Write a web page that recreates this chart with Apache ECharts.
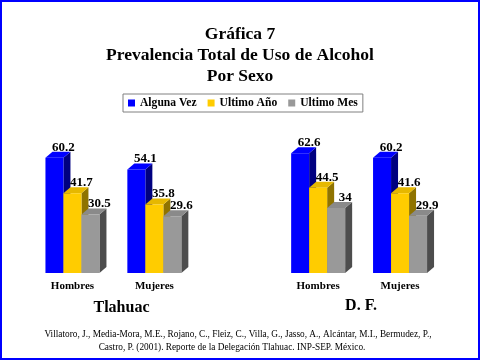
<!DOCTYPE html>
<html>
<head>
<meta charset="utf-8">
<script src="https://cdn.jsdelivr.net/npm/echarts@6/dist/echarts.min.js"></script>
<style>html,body{margin:0;padding:0;background:#fff}#c{width:480px;height:360px}</style>
</head>
<body>
<div id="c"></div>
<script>
const categories = ['Hombres', 'Mujeres', '', 'Hombres', 'Mujeres'];
const seriesNames = ['Alguna Vez', 'Ultimo Año', 'Ultimo Mes'];
const algunaVez = [60.2, 54.1, null, 62.6, 60.2];
const ultimoAno = [41.7, 35.8, null, 44.5, 41.6];
const ultimoMes = [30.5, 29.6, null, 34, 29.9];
const regions = ['Tlahuac', 'D. F.'];
const citation = ['Villatoro, J., Media-Mora, M.E., Rojano, C., Fleiz, C., Villa, G., Jasso, A., Alcántar, M.I., Bermudez, P.,',
  'Castro, P. (2001). Reporte de la Delegación Tlahuac. INP-SEP. México.'];

const values = [algunaVez, ultimoAno, ultimoMes];
const fronts = ['#0000FF', '#FFCC00', '#999999'];
const sides = ['#000080', '#8F7300', '#4D4D4D'];
const tops = ['#0000FF', '#E6B800', '#8A8A8A'];
const SERIF = '"Liberation Serif", "Times New Roman", serif';

function makeRender(k) {
  return function (params, api) {
    const cat = api.value(0), val = api.value(1);
    const base = api.coord([cat, 0]);
    const tp = api.coord([cat, val]);
    const w = 18, dx = 7, dy = 6;
    const x0 = base[0] + (k - 1) * w - w / 2, x1 = x0 + w;
    const yb = base[1], yt = tp[1];
    return {
      type: 'group',
      children: [
        { type: 'polygon', shape: { points: [[x1, yb], [x1 + dx, yb - dy], [x1 + dx, yt - dy], [x1, yt]] }, style: { fill: sides[k] } },
        { type: 'polygon', shape: { points: [[x0, yt], [x0 + dx, yt - dy], [x1 + dx, yt - dy], [x1, yt]] }, style: { fill: tops[k] } },
        { type: 'rect', shape: { x: x0, y: yt, width: w, height: yb - yt }, style: { fill: fronts[k] } },
        { type: 'text', z2: 10, style: { x: (x0 + x1) / 2 + 9, y: yt - 4, text: String(val), fill: '#000', font: 'bold 13px ' + SERIF, align: 'center', verticalAlign: 'bottom' } }
      ]
    };
  };
}

const chart = echarts.init(document.getElementById('c'), null, { renderer: 'canvas' });
chart.setOption({
  animation: false,
  backgroundColor: '#fff',
  title: {
    text: 'Gráfica 7\nPrevalencia Total de Uso de Alcohol\nPor Sexo',
    left: 'center', top: 19,
    textStyle: { fontFamily: SERIF, fontWeight: 'bold', fontSize: 17.5, lineHeight: 21, color: '#000' }
  },
  legend: {
    data: seriesNames,
    left: 123, top: 94,
    padding: [3, 5],
    itemWidth: 7, itemHeight: 7, itemGap: 11,
    icon: 'rect',
    borderColor: '#808080', borderWidth: 1,
    textStyle: { fontFamily: SERIF, fontWeight: 'bold', fontSize: 11.6, color: '#000' }
  },
  grid: { left: 31.5, right: 39, top: 139, bottom: 87 },
  xAxis: {
    type: 'category', data: categories,
    axisLine: { show: false }, axisTick: { show: false },
    axisLabel: { margin: 8, fontFamily: SERIF, fontWeight: 'bold', fontSize: 11, color: '#000', interval: 0 }
  },
  yAxis: { type: 'value', min: 0, max: 70, show: false, splitLine: { show: false } },
  series: values.map((arr, k) => ({
    type: 'custom',
    name: seriesNames[k],
    itemStyle: { color: fronts[k] },
    renderItem: makeRender(k),
    encode: { x: 0, y: 1 },
    data: arr.map((v, i) => [i, v]).filter(d => d[1] != null)
  })),
  graphic: [
    { type: 'text', style: { x: 121.5, y: 308, text: regions[0], font: 'bold 16px ' + SERIF, fill: '#000', align: 'center', verticalAlign: 'middle' } },
    { type: 'text', style: { x: 361, y: 306, text: regions[1], font: 'bold 16px ' + SERIF, fill: '#000', align: 'center', verticalAlign: 'middle' } },
    { type: 'text', style: { x: 238, y: 335, text: citation[0], font: '9.3px ' + SERIF, fill: '#000', align: 'center', verticalAlign: 'middle' } },
    { type: 'text', style: { x: 232, y: 348, text: citation[1], font: '9.3px ' + SERIF, fill: '#000', align: 'center', verticalAlign: 'middle' } },
    { type: 'rect', shape: { x: 1, y: 1, width: 478, height: 358 }, style: { fill: 'none', stroke: '#0000FF', lineWidth: 2 } }
  ]
});
</script>
</body>
</html>
